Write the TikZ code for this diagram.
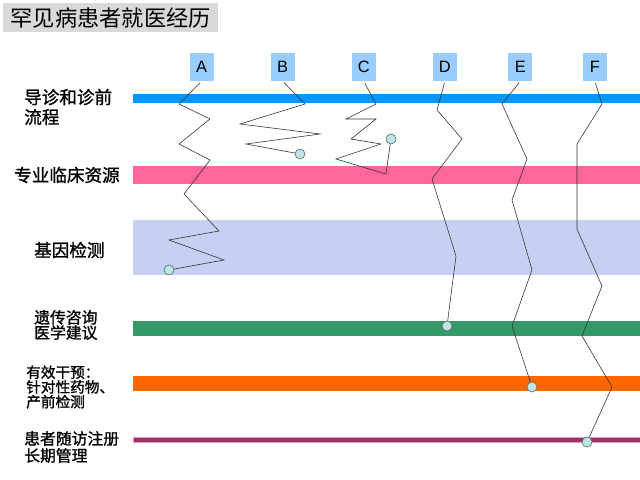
\documentclass[tikz,border=0pt]{standalone}
\usepackage{fontspec}
\setsansfont{Liberation Sans}
\newfontfamily\cjk{Noto Sans CJK SC}
\newfontfamily\cjklane[FakeBold=1.2]{Noto Sans CJK SC}
\usepackage{tikz}
\usetikzlibrary{positioning}

\definecolor{titlegrey}{RGB}{217,217,217}
\definecolor{letterblue}{RGB}{153,204,255}
\definecolor{guideblue}{RGB}{0,150,255}
\definecolor{clinicpink}{RGB}{255,102,153}
\definecolor{genehaze}{RGB}{198,208,243}
\definecolor{counselgreen}{RGB}{51,153,102}
\definecolor{careorange}{RGB}{255,102,0}
\definecolor{followpurple}{RGB}{153,51,102}
\definecolor{followedge}{RGB}{240,150,200}
\definecolor{dotfill}{RGB}{190,228,228}
\definecolor{dotedge}{RGB}{80,105,105}

\begin{document}
\begin{tikzpicture}[
  x=0.03cm, y=-0.03cm,
  titlebox/.style={fill=titlegrey,anchor=north west,minimum width=6.45cm,minimum height=0.87cm,inner sep=0pt,font=\cjk\fontsize{19}{19}\selectfont},
  letter/.style={fill=letterblue,minimum width=0.72cm,minimum height=0.84cm,inner sep=0pt,font=\sffamily\fontsize{14}{14}\selectfont},
  lane/.style={anchor=west,align=left,inner sep=0pt},
  trail/.style={draw=black!80,line width=0.5pt,shorten <=1.5pt},
  dot/.style={circle,draw=dotedge,fill=dotfill,line width=0.5pt,minimum size=0.3cm,inner sep=0pt},
]
\useasboundingbox (0,0) rectangle (640,480);

\node[titlebox] (title) at (3,3) {罕见病患者就医经历};

\fill[guideblue] (133,94) rectangle (640,103);
\fill[clinicpink] (133,166) rectangle (640,184);
\fill[genehaze] (133,220) rectangle (640,275);
\fill[counselgreen] (133,321) rectangle (640,336);
\fill[careorange] (133,376) rectangle (640,391);
\filldraw[fill=followpurple,draw=followedge,line width=0.5pt] (133,437) rectangle (640,442);

\node[lane,font=\cjklane\fontsize{15}{17}\selectfont] (guide) at (24,107) {导诊和诊前\\流程};
\node[lane,font=\cjklane\fontsize{15}{17}\selectfont] (clinic) at (14,175) {专业临床资源};
\node[lane,font=\cjklane\fontsize{15}{17}\selectfont] (gene) at (34,250) {基因检测};
\node[lane,font=\cjklane\fontsize{13.5}{13}\selectfont] (counsel) at (34,325) {遗传咨询\\医学建议};
\node[lane,font=\cjklane\fontsize{12.5}{11.5}\selectfont] (care) at (26,387) {有效干预：\\针对性药物、\\产前检测};
\node[lane,font=\cjklane\fontsize{13.5}{14.5}\selectfont] (follow) at (24,447) {患者随访注册\\长期管理};

\node[letter] (A) at (201.5,67) {A};
\node[letter,right=1.7cm of A] (B) {B};
\node[letter,right=1.7cm of B] (C) {C};
\node[letter,right=1.7cm of C] (D) {D};
\node[letter,right=1.53cm of D] (E) {E};
\node[letter,right=1.5cm of E] (F) {F};

\node[dot] (endA) at (169,270) {};
\node[dot] (endB) at (300,154) {};
\node[dot] (endC) at (391,139) {};
\node[dot] (endD) at (447,326) {};
\node[dot] (endE) at (532,387) {};
\node[dot] (endF) at (587,442) {};

\draw[trail] (A.south) -- (179,104) -- (210,119) -- (179,144) -- (210,160) -- (184,194)
  -- (219,231) -- (169,240) -- (224,260) -- (endA);
\draw[trail] (B.south) -- (305,104) -- (240,124) -- (320,134) -- (246,144) -- (endB);
\draw[trail] (C.south) -- (376,104) -- (346,119) -- (376,119) -- (351,139) -- (381,144)
  -- (336,159) -- (386,174) -- (endC);
\draw[trail] (D.south) -- (437,110) -- (462,139) -- (432,179) -- (456,256) -- (endD);
\draw[trail] (E.south) -- (502,104) -- (527,159) -- (512,200) -- (532,270) -- (512,326) -- (endE);
\draw[trail] (F.south) -- (602,104) -- (577,144) -- (577,229) -- (602,286) -- (582,336)
  -- (612,387) -- (endF);
\end{tikzpicture}
\end{document}
